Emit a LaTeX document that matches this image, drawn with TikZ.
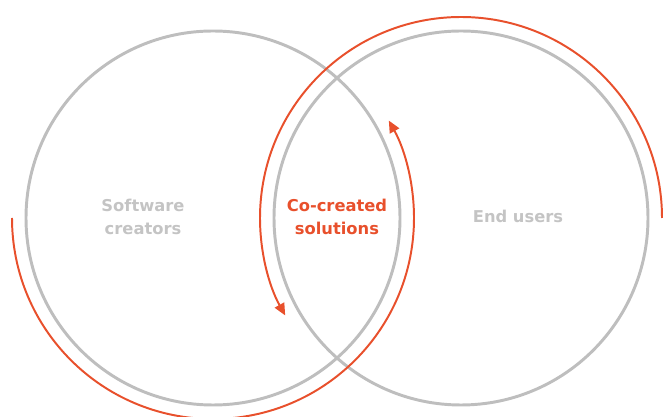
\documentclass[tikz,border=0pt]{standalone}
\usepackage{fontspec}
\setmainfont{DejaVu Sans}
\usetikzlibrary{arrows.meta}
\definecolor{ringgray}{HTML}{BEBEBE}
\definecolor{textgray}{HTML}{C4C4C4}
\definecolor{flame}{HTML}{E8502C}
\begin{document}
\begin{tikzpicture}[
  ring/.style={draw=ringgray,line width=2.1pt},
  flow/.style={draw=flame,line width=1.4pt,-{Triangle[length=8.5pt,width=7.5pt]}},
  lbl/.style={font=\bfseries\fontsize{11.6}{16.6}\selectfont,align=center,text=textgray}]
\useasboundingbox(0,0)rectangle(16.625,10.425);
\coordinate(sw)at(5.325,4.975);
\coordinate(eu)at(11.525,4.975);
\draw[ring](sw)circle[radius=4.675];
\draw[ring](eu)circle[radius=4.675];
% outer arcs, each ends inside the overlap
\draw[flow](eu)++(0:5.025)arc[start angle=0,end angle=209,radius=5.025];
\draw[flow](sw)++(180:5.025)arc[start angle=180,end angle=389,radius=5.025];
\node[lbl](creators)at(3.575,5.0){Software\\creators};
\node[lbl,text=flame](shared)at(8.425,5.0){Co-created\\solutions};
\node[lbl](users)at(12.95,5.025){End users};
\end{tikzpicture}
\end{document}
